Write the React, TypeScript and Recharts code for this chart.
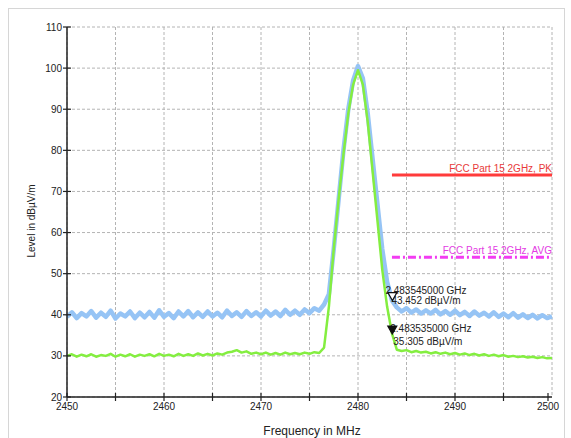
import React from "react";
import {
  LineChart,
  Line,
  XAxis,
  YAxis,
  CartesianGrid,
  ReferenceLine,
  ReferenceDot,
} from "recharts";

// sweep points, MHz
const freqMHz = [
  2450, 2450.5, 2451, 2451.5, 2452, 2452.5, 2453, 2453.5, 2454, 2454.5,
  2455, 2455.5, 2456, 2456.5, 2457, 2457.5, 2458, 2458.5, 2459, 2459.5,
  2460, 2460.5, 2461, 2461.5, 2462, 2462.5, 2463, 2463.5, 2464, 2464.5,
  2465, 2465.5, 2466, 2466.5, 2467, 2467.5, 2468, 2468.5, 2469, 2469.5,
  2470, 2470.5, 2471, 2471.5, 2472, 2472.5, 2473, 2473.5, 2474, 2474.5,
  2475, 2475.5, 2476, 2476.5, 2477, 2477.5, 2478, 2478.5, 2479, 2479.5,
  2480, 2480.5, 2481, 2481.5, 2482, 2482.5, 2483, 2483.5, 2484, 2484.5,
  2485, 2485.5, 2486, 2486.5, 2487, 2487.5, 2488, 2488.5, 2489, 2489.5,
  2490, 2490.5, 2491, 2491.5, 2492, 2492.5, 2493, 2493.5, 2494, 2494.5,
  2495, 2495.5, 2496, 2496.5, 2497, 2497.5, 2498, 2498.5, 2499, 2499.5,
  2500,
];

// peak detector trace, dBµV/m
const peakLevel = [
  39.5, 40.6, 39.2, 40.4, 39.6, 40.9, 39.3, 40.5, 39.5, 41.0,
  39.1, 40.3, 39.6, 40.8, 39.2, 40.5, 39.4, 40.7, 39.3, 41.1,
  39.5, 40.4, 39.2, 40.8, 39.6, 40.9, 39.4, 40.6, 39.5, 40.8,
  39.6, 40.5, 39.4, 41.0, 39.7, 40.6, 39.5, 40.9, 39.7, 40.6,
  39.6, 41.0, 39.8, 40.8, 39.7, 41.2, 40.0, 41.0, 40.0, 41.3,
  40.4, 41.6, 41.0, 42.5, 45.0, 56.0, 68.0, 80.0, 90.0, 97.0,
  100.5, 97.5, 89.0, 78.0, 67.0, 56.0, 48.0, 43.5, 41.8, 40.8,
  41.6, 40.5, 41.3, 40.3, 41.1, 40.3, 41.2, 40.1, 40.9, 40.0,
  41.0, 39.9, 40.7, 39.7, 40.8, 39.8, 40.5, 39.6, 40.6, 39.5,
  40.3, 39.4, 40.4, 39.3, 40.1, 39.2, 40.0, 39.1, 39.9, 39.2,
  39.6,
];

// average detector trace, dBµV/m
const avgLevel = [
  30.0, 30.4, 29.8, 30.3, 29.9, 30.4, 29.8, 30.2, 30.0, 30.5,
  29.8, 30.3, 29.9, 30.4, 29.8, 30.3, 30.0, 30.4, 29.9, 30.5,
  30.0, 30.3, 29.9, 30.5, 30.0, 30.4, 30.0, 30.6, 30.1, 30.5,
  30.1, 30.6, 30.3, 30.8, 31.0, 31.4, 30.8, 31.1, 30.5, 30.8,
  30.4, 30.8, 30.3, 30.7, 30.3, 30.8, 30.4, 30.7, 30.4, 30.8,
  30.5, 30.9, 30.7, 32.0, 42.0, 56.0, 68.0, 79.0, 89.0, 96.0,
  99.5, 96.0, 87.0, 75.0, 63.0, 51.0, 42.0, 35.5, 31.5, 31.2,
  31.4, 30.9, 31.2, 30.8, 31.0, 30.6, 30.9, 30.5, 30.8, 30.4,
  30.7, 30.3, 30.6, 30.2, 30.5, 30.1, 30.4, 30.0, 30.3, 29.9,
  30.2, 29.8, 30.0, 29.7, 29.9, 29.6, 29.8, 29.5, 29.7, 29.4,
  29.5,
];

const xTicks = [2450, 2455, 2460, 2465, 2470, 2475, 2480, 2485, 2490, 2495, 2500];
const yTicks = [20, 25, 30, 35, 40, 45, 50, 55, 60, 65, 70, 75, 80, 85, 90, 95, 100, 105, 110];

// limit lines
const limitStart = 2483.5;
const limitEnd = 2500;
const pkLimit = 74;
const avgLimit = 54;
const pkLimitName = "FCC Part 15 2GHz, PK";
const avgLimitName = "FCC Part 15 2GHz, AVG";

// markers
const markerFreq = [2483.545, 2483.535];
const markerLevel = [43.452, 35.305];
const markerFreqText = ["2.483545000 GHz", "2.483535000 GHz"];
const markerLevelText = ["43.452 dBµV/m", "35.305 dBµV/m"];

const FONT = "'Liberation Sans', Arial, sans-serif";

const data = freqMHz.map((f, i) => ({ f, pk: peakLevel[i], avg: avgLevel[i] }));

const XTick = (props: any) => {
  const { x, y, payload } = props;
  const v = payload.value;
  return (
    <g>
      <line x1={x} x2={x} y1={y - 4} y2={y + 4} stroke="#222" strokeWidth={1.2} />
      {v % 10 === 0 && (
        <text x={x} y={y + 13} textAnchor="middle" fontSize={10} fill="#222" fontFamily={FONT}>
          {v}
        </text>
      )}
    </g>
  );
};

const YTick = (props: any) => {
  const { x, y, payload } = props;
  const v = payload.value;
  return (
    <g>
      <line x1={x - 4} x2={x + 4} y1={y} y2={y} stroke="#222" strokeWidth={1.2} />
      {v % 10 === 0 && (
        <text x={x - 5} y={y + 3.5} textAnchor="end" fontSize={10} fill="#222" fontFamily={FONT}>
          {v}
        </text>
      )}
    </g>
  );
};

const limitLabel = (text: string, color: string) => (p: any) => (
  <text x={p.cx} y={p.cy - 3} textAnchor="end" fontSize={10} fill={color} fontFamily={FONT}>
    {text}
  </text>
);

// outlined marker for the PK trace, filled for AVG
const markerShape = (i: number) => (p: any) => {
  const { cx, cy } = p;
  const filled = i === 1;
  const t1 = filled ? [cx - 2, cy - 2.5] : [cx - 7, cy - 7];
  const t2 = filled ? [cx + 1, cy + 10.5] : [cx - 1, cy + 3];
  return (
    <g fontFamily={FONT} fontSize={10} fill="#222">
      <text x={t1[0]} y={t1[1]}>{markerFreqText[i]}</text>
      <text x={t2[0]} y={t2[1]}>{markerLevelText[i]}</text>
      <polygon
        points={`${cx - 4.5},${cy - 8} ${cx + 4.5},${cy - 8} ${cx},${cy}`}
        fill={filled ? "#111" : "#fff"}
        stroke="#111"
        strokeWidth={1.2}
      />
    </g>
  );
};

export default function App() {
  return (
    <div
      style={{
        position: "fixed",
        left: 8,
        top: 8,
        width: 555,
        height: 440,
        border: "1px solid #d6d6d6",
        borderBottom: "none",
        background: "#fff",
      }}
    >
      <LineChart
        width={555}
        height={429}
        data={data}
        margin={{ top: 18, right: 12, left: 20, bottom: 10 }}
        style={{ overflow: "visible" }}
      >
        <CartesianGrid stroke="#b4b4b4" strokeDasharray="3 2" />
        <XAxis
          dataKey="f"
          type="number"
          domain={[2450, 2500]}
          ticks={xTicks}
          height={31}
          tickSize={0}
          tickMargin={0}
          tickLine={false}
          tick={<XTick />}
          axisLine={{ stroke: "#222", strokeWidth: 1.5 }}
          label={{
            content: () => (
              <text x={303} y={426} textAnchor="middle" fontSize={12} fill="#222" fontFamily={FONT}>
                Frequency in MHz
              </text>
            ),
          }}
        />
        <YAxis
          type="number"
          domain={[20, 110]}
          ticks={yTicks}
          width={38}
          tickSize={0}
          tickMargin={0}
          tickLine={false}
          tick={<YTick />}
          axisLine={{ stroke: "#222", strokeWidth: 1.5 }}
          label={{
            content: () => (
              <text
                x={26}
                y={212}
                transform="rotate(-90 26 212)"
                textAnchor="middle"
                fontSize={10}
                fill="#222"
                fontFamily={FONT}
              >
                Level in dBµV/m
              </text>
            ),
          }}
        />
        <Line
          dataKey="pk"
          stroke="#96c4f5"
          strokeWidth={4.5}
          strokeLinejoin="round"
          dot={false}
          isAnimationActive={false}
        />
        <Line
          dataKey="avg"
          stroke="#84ee40"
          strokeWidth={2.5}
          strokeLinejoin="round"
          dot={false}
          isAnimationActive={false}
        />
        <ReferenceLine
          segment={[{ x: limitStart, y: pkLimit }, { x: limitEnd, y: pkLimit }]}
          stroke="#ff3b3b"
          strokeWidth={3}
          ifOverflow="visible"
        />
        <ReferenceLine
          segment={[{ x: limitStart, y: avgLimit }, { x: limitEnd, y: avgLimit }]}
          stroke="#f23cf2"
          strokeWidth={3}
          strokeDasharray="8 3 2 3"
          ifOverflow="visible"
        />
        <ReferenceDot x={limitEnd} y={pkLimit} r={0} ifOverflow="visible" shape={limitLabel(pkLimitName, "#e83a3a")} />
        <ReferenceDot x={limitEnd} y={avgLimit} r={0} ifOverflow="visible" shape={limitLabel(avgLimitName, "#e33be3")} />
        {markerFreq.map((f, i) => (
          <ReferenceDot
            key={i}
            x={f}
            y={markerLevel[i]}
            r={0}
            ifOverflow="visible"
            shape={markerShape(i)}
          />
        ))}
      </LineChart>
    </div>
  );
}
